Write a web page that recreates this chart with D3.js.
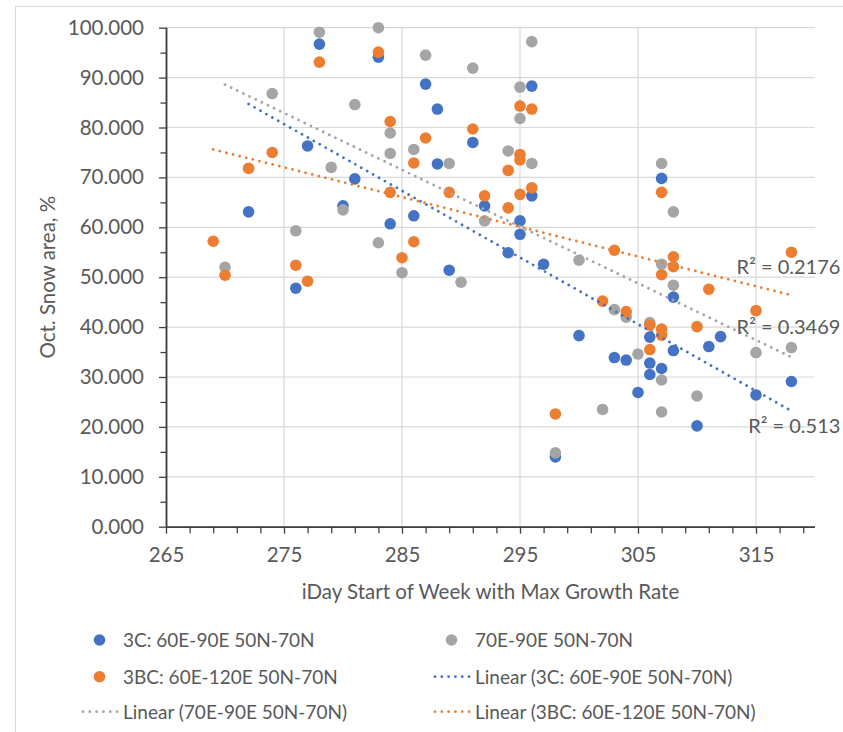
<!DOCTYPE html>
<html>
<head>
<meta charset="utf-8">
<script src="https://cdnjs.cloudflare.com/ajax/libs/d3/7.8.5/d3.min.js"></script>
<style>
body { margin: 0; background: #fff; }
svg { display: block; font-family: Lato, "Open Sans", sans-serif; }
</style>
</head>
<body>
<svg class="chart"></svg>
<script>

// Values
const series_names = ["3C: 60E-90E 50N-70N", "70E-90E 50N-70N", "3BC: 60E-120E 50N-70N"];
const series_colors = ["#4472C4", "#A5A5A5", "#ED7D31"];

const points_3c = [
    [272, 63.1], [276, 47.8], [277, 76.3], [278, 96.7], [280, 64.3], [281, 69.7],
    [283, 94.1], [284, 60.7], [286, 62.3], [287, 88.7], [288, 83.7], [288, 72.7],
    [289, 51.4], [291, 77.0], [292, 64.3], [294, 54.9], [295, 61.3], [295, 58.6],
    [296, 88.3], [296, 66.3], [297, 52.6], [298, 14.0], [300, 38.3], [303, 33.9],
    [304, 33.4], [305, 26.9], [306, 38.0], [306, 32.8], [306, 30.5], [307, 69.8],
    [307, 31.7], [308, 46.0], [308, 35.3], [310, 20.2], [311, 36.1], [312, 38.1],
    [315, 26.4], [318, 29.1]
];
const points_70e = [
    [270, 52.0], [274, 86.8], [276, 59.3], [278, 99.1], [279, 72.0], [280, 63.5],
    [281, 84.6], [283, 100.0], [283, 56.9], [284, 78.9], [284, 74.8], [285, 50.9],
    [286, 75.6], [287, 94.5], [289, 72.8], [290, 49.0], [291, 91.9], [292, 61.3],
    [294, 75.3], [295, 88.1], [295, 81.8], [296, 97.2], [296, 72.8], [298, 14.8],
    [300, 53.4], [302, 23.5], [303, 43.5], [304, 42.0], [305, 34.6], [306, 40.9],
    [307, 72.8], [307, 52.6], [307, 29.4], [307, 23.0], [308, 63.1], [308, 48.4],
    [310, 26.2], [315, 34.9], [318, 35.9]
];
const points_3bc = [
    [269, 57.2], [270, 50.4], [272, 71.8], [274, 75.0], [276, 52.4], [277, 49.2],
    [278, 93.1], [283, 95.1], [284, 81.2], [284, 67.0], [285, 53.9], [286, 72.9],
    [286, 57.1], [287, 77.9], [289, 67.0], [291, 79.7], [292, 66.3], [294, 71.4],
    [294, 63.9], [295, 84.3], [295, 74.6], [295, 73.5], [295, 66.6], [296, 83.7],
    [296, 67.9], [298, 22.6], [302, 45.2], [303, 55.4], [304, 43.1], [306, 40.4],
    [306, 35.5], [307, 67.0], [307, 50.5], [307, 39.6], [307, 38.4], [308, 54.1],
    [308, 52.1], [310, 40.1], [311, 47.6], [315, 43.3], [318, 55.0]
];

// Linear trendlines, endpoints as drawn, and their R² labels
const trend_3c = [[272, 84.7], [318, 23.2]];
const trend_70e = [[270, 88.6], [318, 34.0]];
const trend_3bc = [[269, 75.6], [318, 46.4]];
const r2_labels = ["R\u00B2 = 0.513", "R\u00B2 = 0.3469", "R\u00B2 = 0.2176"];

const x_ticks = [265, 275, 285, 295, 305, 315];
const y_ticks = [0, 10, 20, 30, 40, 50, 60, 70, 80, 90, 100];

const x_title = "iDay Start of Week with Max Growth Rate";
const y_title = "Oct. Snow area, %";

const chart = {
    width: 843,
    height: 732,
    left: 166,
    right: 815,
    top: 27.7,
    bottom: 526.7,
    text_color: "#595959",
    grid_color: "#d9d9d9",
    axis_color: "#404040",
    radius: 5.8,
};

const svg = d3.select("svg.chart")
    .attr("width", chart.width)
    .attr("height", chart.height);

// chart area frame (runs off the right and bottom edge)
svg.append("rect")
    .attr("x", 15.5).attr("y", 6.5)
    .attr("width", chart.width).attr("height", chart.height)
    .attr("fill", "#fff")
    .attr("stroke", chart.grid_color);

const x = d3.scaleLinear().domain([265, 320]).range([chart.left, chart.right]);
const y = d3.scaleLinear().domain([0, 100]).range([chart.bottom, chart.top]);

// gridlines
const grid = svg.append("g").attr("class", "grid")
    .attr("stroke", chart.grid_color).attr("stroke-width", 1.2);
grid.selectAll("line.h")
    .data(y_ticks)
    .enter().append("line")
        .attr("class", "h")
        .attr("x1", chart.left).attr("x2", chart.right)
        .attr("y1", (d) => y(d)).attr("y2", (d) => y(d));
grid.selectAll("line.v")
    .data(x_ticks.slice(1))
    .enter().append("line")
        .attr("class", "v")
        .attr("x1", (d) => x(d)).attr("x2", (d) => x(d))
        .attr("y1", chart.top).attr("y2", chart.bottom);

// axes: minor ticks first, then major ones with labels
const minor_y = d3.range(5, 100, 10);
const minor_x = d3.range(267, 320, 2).filter((d) => !x_ticks.includes(d));

const y_minor = svg.append("g")
    .attr("transform", "translate(" + chart.left + ",0)")
    .call(d3.axisLeft(y).tickValues(minor_y).tickSize(5.5).tickFormat(""));
const y_axis = svg.append("g")
    .attr("transform", "translate(" + chart.left + ",0)")
    .call(d3.axisLeft(y).tickValues(y_ticks).tickSize(7).tickPadding(15)
        .tickFormat(d3.format(".3f")));

const x_minor = svg.append("g")
    .attr("transform", "translate(0," + chart.bottom + ")")
    .call(d3.axisBottom(x).tickValues(minor_x).tickSize(6.5).tickFormat(""));
const x_axis = svg.append("g")
    .attr("transform", "translate(0," + chart.bottom + ")")
    .call(d3.axisBottom(x).tickValues(x_ticks).tickSize(7).tickPadding(14)
        .tickFormat(d3.format("d")));

[y_minor, y_axis, x_minor, x_axis].forEach(function(g) {
    g.select(".domain").attr("stroke", chart.axis_color).attr("stroke-width", 1.5);
    g.selectAll(".tick line").attr("stroke", chart.axis_color).attr("stroke-width", 1.3);
    g.selectAll(".tick text")
        .attr("fill", chart.text_color)
        .style("font-family", "Lato, 'Open Sans', sans-serif")
        .style("font-size", "20.5px");
});
// no outer tick stubs at the axis ends
[y_minor, y_axis].forEach((g) => g.select(".domain")
    .attr("d", "M0.5," + chart.top + "V" + chart.bottom));
[x_minor, x_axis].forEach((g) => g.select(".domain")
    .attr("d", "M" + chart.left + ",0.5H" + chart.right));

// axis titles
svg.append("text")
    .attr("x", (chart.left + chart.right) / 2)
    .attr("y", 599)
    .attr("text-anchor", "middle")
    .attr("fill", chart.text_color)
    .style("font-size", "20.5px")
    .text(x_title);

svg.append("text")
    .attr("transform", "translate(55," + (chart.top + chart.bottom) / 2 + ") rotate(-90)")
    .attr("text-anchor", "middle")
    .attr("fill", chart.text_color)
    .style("font-size", "20.5px")
    .text(y_title);

// markers, drawn in series order
const all_points = [points_3c, points_70e, points_3bc];
all_points.forEach(function(points, i) {
    svg.append("g")
        .attr("class", "series-" + i)
        .selectAll("circle")
        .data(points)
        .enter().append("circle")
            .attr("cx", (d) => x(d[0]))
            .attr("cy", (d) => y(d[1]))
            .attr("r", chart.radius)
            .attr("fill", series_colors[i]);
});

// trendlines on top
const trends = [trend_3c, trend_70e, trend_3bc];
const line = d3.line().x((d) => x(d[0])).y((d) => y(d[1]));
trends.forEach(function(t, i) {
    svg.append("path")
        .attr("d", line(t))
        .attr("fill", "none")
        .attr("stroke", series_colors[i])
        .attr("stroke-width", 2.8)
        .attr("stroke-linecap", "round")
        .attr("stroke-dasharray", "0.01 6.8");
});

// R² labels sit right-aligned near the end of each trendline
const r2_dy = [22, -23, -21];
trends.forEach(function(t, i) {
    svg.append("text")
        .attr("x", x(t[1][0]) + 49)
        .attr("y", y(t[1][1]) + r2_dy[i])
        .attr("text-anchor", "end")
        .attr("fill", chart.text_color)
        .style("font-size", "20px")
        .text(r2_labels[i]);
});

// legend: two columns, three rows
const legend_items = [
    {kind: "dot", color: series_colors[0], label: series_names[0]},
    {kind: "dot", color: series_colors[1], label: series_names[1]},
    {kind: "dot", color: series_colors[2], label: series_names[2]},
    {kind: "line", color: series_colors[0], label: "Linear (" + series_names[0] + ")"},
    {kind: "line", color: series_colors[1], label: "Linear (" + series_names[1] + ")"},
    {kind: "line", color: series_colors[2], label: "Linear (" + series_names[2] + ")"},
];
const legend_cols = [123, 475];
const legend_rows = [640, 676.7, 711.7];

const legend = svg.append("g").attr("class", "legend")
    .selectAll("g")
    .data(legend_items)
    .enter().append("g")
        .attr("transform", (d, i) =>
            "translate(" + legend_cols[i % 2] + "," + legend_rows[Math.floor(i / 2)] + ")");

legend.filter((d) => d.kind == "dot").append("circle")
    .attr("cx", -23.5)
    .attr("r", chart.radius)
    .attr("fill", (d) => d.color);

legend.filter((d) => d.kind == "line").append("line")
    .attr("x1", -40).attr("x2", -2)
    .attr("stroke", (d) => d.color)
    .attr("stroke-width", 2.8)
    .attr("stroke-linecap", "round")
    .attr("stroke-dasharray", "0.01 6.8");

legend.append("text")
    .attr("y", 6.8)
    .attr("fill", chart.text_color)
    .style("font-size", "19px")
    .text((d) => d.label);

</script>
</body>
</html>
